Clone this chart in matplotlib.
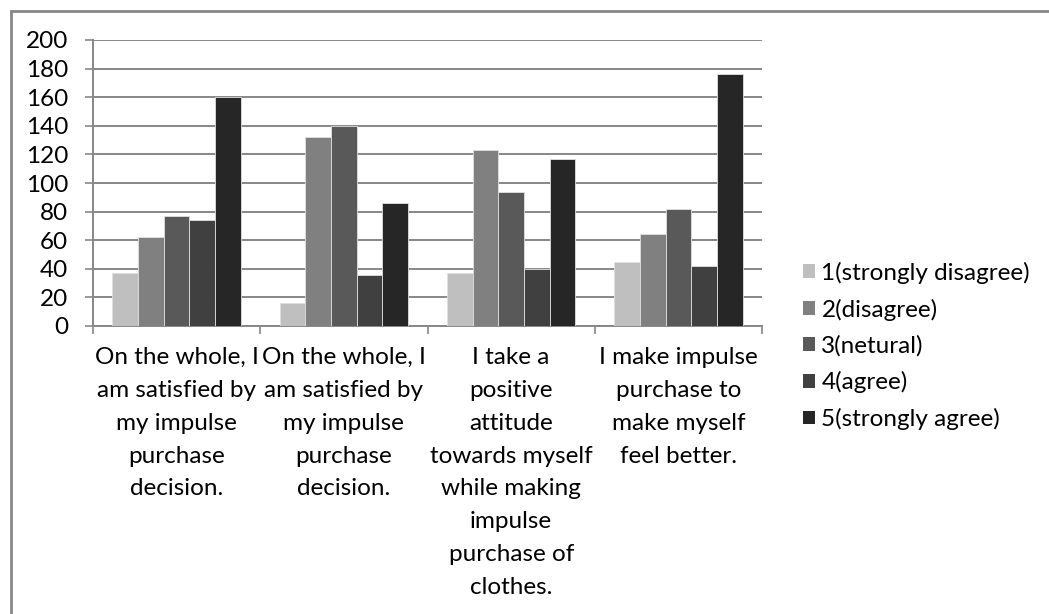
import numpy as np
import matplotlib
matplotlib.use('Agg')
from matplotlib import pyplot as plt
from matplotlib.patches import Rectangle, Patch

plt.rcParams['font.family'] = ['Lato', 'DejaVu Sans']

# survey statements (x categories) and answer counts per response level
statements = [
    'On the whole, I\nam satisfied by\nmy impulse\npurchase\ndecision.',
    'On the whole, I\nam satisfied by\nmy impulse\npurchase\ndecision.',
    'I take a\npositive\nattitude\ntowards myself\nwhile making\nimpulse\npurchase of\nclothes.',
    'I make impulse\npurchase to\nmake myself\nfeel better.',
]
levels = ['1(strongly disagree)', '2(disagree)', '3(netural)', '4(agree)', '5(strongly agree)']
strongly_disagree = [37, 16, 37, 45]
disagree = [62, 132, 123, 64]
netural = [77, 140, 94, 82]
agree = [74, 36, 40, 42]
strongly_agree = [160, 86, 117, 176]
yticks = list(range(0, 201, 20))

series = [strongly_disagree, disagree, netural, agree, strongly_agree]
colors = ['#bfbfbf', '#808080', '#595959', '#404040', '#262626']

W, H = 1049, 614
fs = 17.5
fig = plt.figure(figsize=(W / 100, H / 100), dpi=100)
ax = fig.add_axes([93 / W, (H - 326) / H, (762 - 93) / W, (326 - 40) / H])

x = np.arange(len(statements))
bw = 1 / 6.5
for i, (vals, c) in enumerate(zip(series, colors)):
    ax.bar(x + (i - 2) * bw, vals, width=bw, color=c, edgecolor='#e0e0e0',
           linewidth=0.6, label=levels[i], zorder=3)

ax.set_xlim(-0.5, len(statements) - 0.5)
ax.set_ylim(0, 200)
ax.set_yticks(yticks)
ax.set_yticklabels([str(v) for v in yticks], fontsize=fs)
ax.yaxis.grid(True, color='#878787', linewidth=1.4, zorder=0)

ax.set_xticks(x)
ax.set_xticklabels(statements, fontsize=fs, linespacing=1.7, va='top')
ax.set_xticks(np.arange(-0.5, len(statements)), minor=True)
ax.tick_params(axis='x', which='major', length=0, pad=15)
ax.tick_params(axis='x', which='minor', length=6, width=1.2, color='#878787', direction='out')
ax.tick_params(axis='y', length=6, width=1.2, color='#878787', pad=12)

for side in ['top', 'right']:
    ax.spines[side].set_visible(False)
for side in ['left', 'bottom']:
    ax.spines[side].set_color('#878787')
    ax.spines[side].set_linewidth(1.4)

handles = [Patch(facecolor=c, edgecolor='none') for c in colors]
fig.legend(handles, levels, loc='center left', bbox_to_anchor=(791 / W, 1 - 346 / H),
           frameon=False, fontsize=fs, handlelength=0.5, handleheight=0.5,
           handletextpad=0.25, labelspacing=0.6, borderpad=0)

# outer chart border
fig.patches.append(Rectangle((11 / W, -0.1), 1.2, 1.1 - 11 / H, transform=fig.transFigure,
                             fill=False, edgecolor='#878787', linewidth=2.0))

fig.savefig('out.png', dpi=100)
